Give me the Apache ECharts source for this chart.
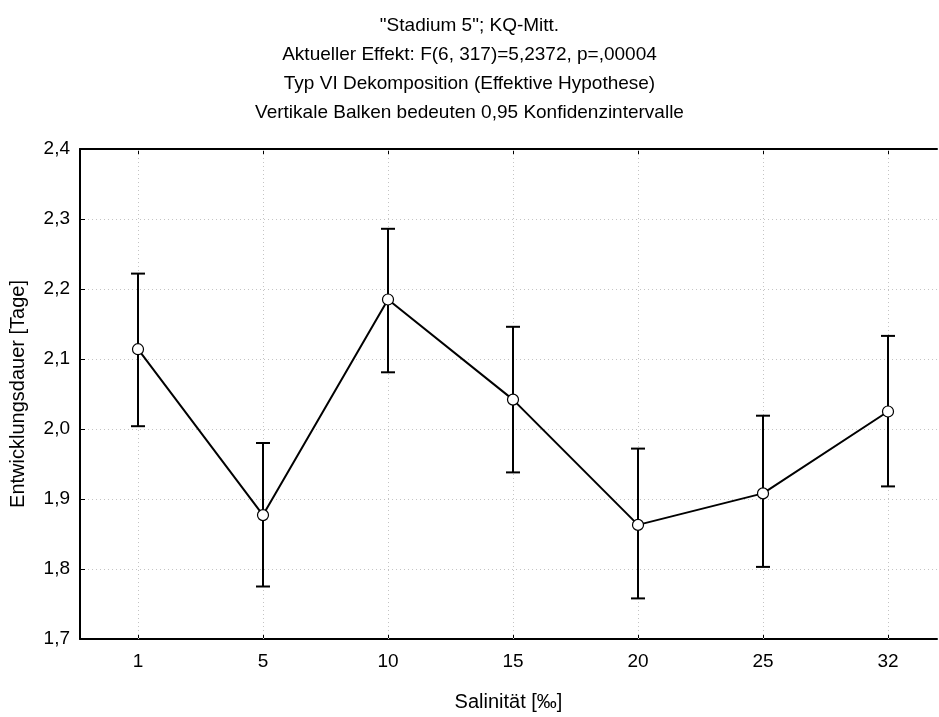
<!DOCTYPE html>
<html>
<head>
<meta charset="utf-8">
<script src="https://cdn.jsdelivr.net/npm/echarts@6/dist/echarts.min.js"></script>
<style>html,body{margin:0;padding:0;background:#fff}#c{width:939px;height:717px}</style>
</head>
<body>
<div id="c"></div>
<script>
var categories = ['1', '5', '10', '15', '20', '25', '32'];
var means = [2.114, 1.877, 2.185, 2.042, 1.863, 1.908, 2.025];
var upper = [2.222, 1.980, 2.286, 2.146, 1.972, 2.019, 2.133];
var lower = [2.004, 1.775, 2.081, 1.938, 1.758, 1.803, 1.918];
var titleLines = ['"Stadium 5"; KQ-Mitt.', 'Aktueller Effekt: F(6, 317)=5,2372, p=,00004', 'Typ VI Dekomposition (Effektive Hypothese)', 'Vertikale Balken bedeuten 0,95 Konfidenzintervalle'];

var idx = categories.map(function (c, i) { return i; });
var chart = echarts.init(document.getElementById('c'), null, {renderer: 'canvas'});
var font = 'Liberation Sans, Arial, sans-serif';
var gridLine = {color: '#c4c4c4', type: [1, 3], width: 1};
chart.setOption({
  animation: false,
  backgroundColor: '#fff',
  title: {
    text: titleLines.join('\n'),
    left: 'center',
    top: 6,
    textStyle: {fontFamily: font, fontSize: 19, fontWeight: 'normal', color: '#000', lineHeight: 29}
  },
  grid: {left: 80, right: 2, top: 149, bottom: 78, containLabel: false, outerBoundsMode: 'none'},
  xAxis: [{
    type: 'value',
    min: -0.464,
    max: 6.392,
    name: 'Salinität [‰]',
    nameLocation: 'middle',
    nameGap: 53,
    nameTextStyle: {fontFamily: font, fontSize: 20, color: '#000'},
    axisLine: {onZero: false, lineStyle: {color: '#000', width: 2}},
    axisTick: {inside: true, length: 5, lineStyle: {color: '#000'}, customValues: idx},
    axisLabel: {customValues: idx, fontFamily: font, fontSize: 19, color: '#000', margin: 13,
      formatter: function (v) { return categories[Math.round(v)]; }},
    splitLine: {show: false}
  }, {
    type: 'value',
    position: 'top',
    min: -0.464,
    max: 6.392,
    axisLine: {onZero: false, lineStyle: {color: '#000', width: 2}},
    axisTick: {inside: true, length: 5, lineStyle: {color: '#000'}, customValues: idx},
    axisLabel: {show: false},
    splitLine: {show: false}
  }],
  yAxis: {
    type: 'value',
    min: 1.7,
    max: 2.4,
    interval: 0.1,
    name: 'Entwicklungsdauer [Tage]',
    nameLocation: 'middle',
    nameGap: 52,
    nameTextStyle: {fontFamily: font, fontSize: 20, color: '#000'},
    axisLine: {show: true, onZero: false, lineStyle: {color: '#000', width: 2}},
    axisTick: {show: true, inside: true, length: 5, lineStyle: {color: '#000'}},
    axisLabel: {fontFamily: font, fontSize: 19, color: '#000', margin: 10,
      formatter: function (v) { return v.toFixed(1).replace('.', ','); }},
    splitLine: {show: true, lineStyle: gridLine}
  },
  series: [
    {
      type: 'line',
      z: 1,
      data: [],
      markLine: {
        z: 1,
        silent: true,
        symbol: 'none',
        label: {show: false},
        lineStyle: gridLine,
        data: idx.map(function (i) { return {xAxis: i}; })
      }
    },
    {
      type: 'custom',
      z: 3,
      data: idx.map(function (i) { return [i, lower[i], upper[i]]; }),
      renderItem: function (params, api) {
        var x = api.value(0);
        var lo = api.coord([x, api.value(1)]);
        var hi = api.coord([x, api.value(2)]);
        var w = 7;
        var st = {stroke: '#000', lineWidth: 2, fill: null};
        return {
          type: 'group',
          children: [
            {type: 'line', shape: {x1: hi[0], y1: hi[1], x2: lo[0], y2: lo[1]}, style: st},
            {type: 'line', shape: {x1: hi[0] - w, y1: hi[1], x2: hi[0] + w, y2: hi[1]}, style: st},
            {type: 'line', shape: {x1: lo[0] - w, y1: lo[1], x2: lo[0] + w, y2: lo[1]}, style: st}
          ]
        };
      }
    },
    {
      type: 'line',
      z: 4,
      data: idx.map(function (i) { return [i, means[i]]; }),
      symbol: 'circle',
      symbolSize: 11,
      lineStyle: {color: '#000', width: 2},
      itemStyle: {color: '#fff', borderColor: '#000', borderWidth: 1.2}
    }
  ]
});
</script>
</body>
</html>
